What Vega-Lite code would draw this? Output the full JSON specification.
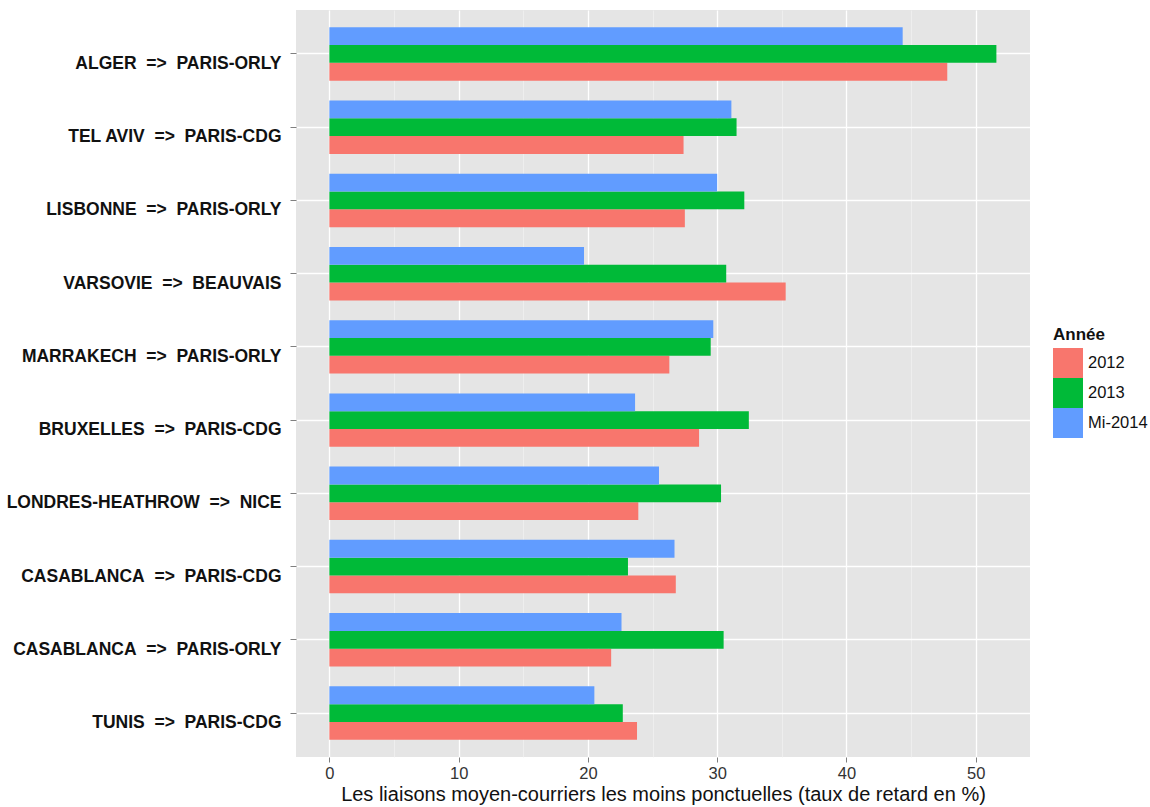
{
  "$schema": "https://vega.github.io/schema/vega-lite/v6.json",
  "autosize": {"type": "none"},
  "padding": {"left": 296, "top": 10, "right": 120, "bottom": 50},
  "width": 734,
  "height": 747,
  "background": "white",
  "config": {
    "view": {"fill": "#E5E5E5", "stroke": null},
    "font": "Liberation Sans"
  },
  "data": {
    "values": [
      {"route": "ALGER  =>  PARIS-ORLY", "annee": "2012", "taux": 47.8},
      {"route": "ALGER  =>  PARIS-ORLY", "annee": "2013", "taux": 51.6},
      {"route": "ALGER  =>  PARIS-ORLY", "annee": "Mi-2014", "taux": 44.35},
      {"route": "TEL AVIV  =>  PARIS-CDG", "annee": "2012", "taux": 27.4},
      {"route": "TEL AVIV  =>  PARIS-CDG", "annee": "2013", "taux": 31.5},
      {"route": "TEL AVIV  =>  PARIS-CDG", "annee": "Mi-2014", "taux": 31.1},
      {"route": "LISBONNE  =>  PARIS-ORLY", "annee": "2012", "taux": 27.5},
      {"route": "LISBONNE  =>  PARIS-ORLY", "annee": "2013", "taux": 32.1},
      {"route": "LISBONNE  =>  PARIS-ORLY", "annee": "Mi-2014", "taux": 30.0},
      {"route": "VARSOVIE  =>  BEAUVAIS", "annee": "2012", "taux": 35.3},
      {"route": "VARSOVIE  =>  BEAUVAIS", "annee": "2013", "taux": 30.7},
      {"route": "VARSOVIE  =>  BEAUVAIS", "annee": "Mi-2014", "taux": 19.7},
      {"route": "MARRAKECH  =>  PARIS-ORLY", "annee": "2012", "taux": 26.3},
      {"route": "MARRAKECH  =>  PARIS-ORLY", "annee": "2013", "taux": 29.5},
      {"route": "MARRAKECH  =>  PARIS-ORLY", "annee": "Mi-2014", "taux": 29.7},
      {"route": "BRUXELLES  =>  PARIS-CDG", "annee": "2012", "taux": 28.6},
      {"route": "BRUXELLES  =>  PARIS-CDG", "annee": "2013", "taux": 32.45},
      {"route": "BRUXELLES  =>  PARIS-CDG", "annee": "Mi-2014", "taux": 23.65},
      {"route": "LONDRES-HEATHROW  =>  NICE", "annee": "2012", "taux": 23.9},
      {"route": "LONDRES-HEATHROW  =>  NICE", "annee": "2013", "taux": 30.3},
      {"route": "LONDRES-HEATHROW  =>  NICE", "annee": "Mi-2014", "taux": 25.5},
      {"route": "CASABLANCA  =>  PARIS-CDG", "annee": "2012", "taux": 26.8},
      {"route": "CASABLANCA  =>  PARIS-CDG", "annee": "2013", "taux": 23.1},
      {"route": "CASABLANCA  =>  PARIS-CDG", "annee": "Mi-2014", "taux": 26.7},
      {"route": "CASABLANCA  =>  PARIS-ORLY", "annee": "2012", "taux": 21.8},
      {"route": "CASABLANCA  =>  PARIS-ORLY", "annee": "2013", "taux": 30.5},
      {"route": "CASABLANCA  =>  PARIS-ORLY", "annee": "Mi-2014", "taux": 22.6},
      {"route": "TUNIS  =>  PARIS-CDG", "annee": "2012", "taux": 23.8},
      {"route": "TUNIS  =>  PARIS-CDG", "annee": "2013", "taux": 22.7},
      {"route": "TUNIS  =>  PARIS-CDG", "annee": "Mi-2014", "taux": 20.5}
    ]
  },
  "mark": {"type": "bar", "strokeWidth": 0},
  "encoding": {
    "y": {
      "field": "route",
      "type": "nominal",
      "sort": null,
      "scale": {"paddingInner": 0.27, "paddingOuter": 0.235},
      "axis": {
        "title": null,
        "domain": false,
        "bandPosition": 0.5,
        "grid": true,
        "gridColor": "#FFFFFF",
        "gridWidth": 1.3,
        "tickColor": "#7F7F7F",
        "tickSize": 6,
        "tickWidth": 1,
        "labelFont": "Liberation Sans",
        "labelFontWeight": "bold",
        "labelFontSize": 17.5,
        "labelColor": "#111111",
        "labelPadding": 9,
        "labelOffset": 10,
        "labelLimit": 400,
        "labelExpr": "replace(datum.label, /  /g, '\u00a0\u00a0')"
      }
    },
    "yOffset": {
      "field": "annee",
      "type": "nominal",
      "scale": {"domain": ["Mi-2014", "2013", "2012"], "paddingInner": 0, "paddingOuter": 0}
    },
    "x": {
      "field": "taux",
      "type": "quantitative",
      "scale": {"domain": [-2.58, 54.2], "nice": false, "zero": false},
      "axis": {
        "title": "Les liaisons moyen-courriers les moins ponctuelles (taux de retard en %)",
        "titleFont": "Liberation Sans",
        "titleFontSize": 20,
        "titleFontWeight": "normal",
        "titleColor": "#111111",
        "titlePadding": 3,
        "values": [0, 5, 10, 15, 20, 25, 30, 35, 40, 45, 50],
        "domain": false,
        "grid": true,
        "gridColor": {"condition": {"test": "datum.value % 10 === 0", "value": "#FFFFFF"}, "value": "#F2F2F2"},
        "gridWidth": {"condition": {"test": "datum.value % 10 === 0", "value": 1.3}, "value": 0.7},
        "tickColor": {"condition": {"test": "datum.value % 10 === 0", "value": "#7F7F7F"}, "value": "transparent"},
        "tickSize": 5,
        "labelExpr": "datum.value % 10 === 0 ? datum.label : ''",
        "labelFont": "Liberation Sans",
        "labelFontSize": 16.5,
        "labelColor": "#333333",
        "labelPadding": 3
      }
    },
    "color": {
      "field": "annee",
      "type": "nominal",
      "scale": {"domain": ["2012", "2013", "Mi-2014"], "range": ["#F8766D", "#00BA38", "#619CFF"]},
      "legend": {
        "title": "Année",
        "orient": "none",
        "legendX": 757,
        "legendY": 317,
        "titleFont": "Liberation Sans",
        "titleFontSize": 17,
        "titleFontWeight": "bold",
        "titleColor": "#111111",
        "titlePadding": 4,
        "labelFont": "Liberation Sans",
        "labelFontSize": 16.5,
        "labelColor": "#111111",
        "labelOffset": 5,
        "symbolType": "square",
        "symbolSize": 900,
        "symbolStrokeWidth": 0,
        "rowPadding": 0
      }
    }
  }
}
